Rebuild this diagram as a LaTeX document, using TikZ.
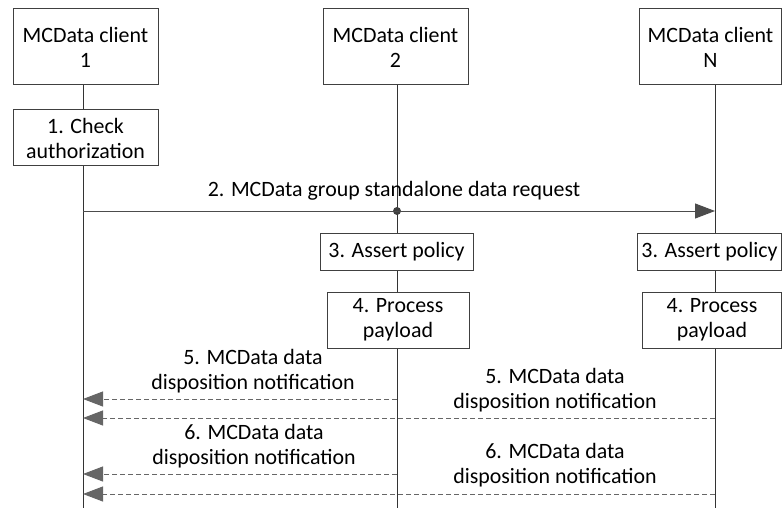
\documentclass[tikz,border=0pt]{standalone}
\usepackage{fontspec}
\setmainfont{Carlito}
\usetikzlibrary{arrows.meta}

\begin{document}
\begin{tikzpicture}[x=1pt, y=-1pt,
    font=\fontsize{21.9}{25}\selectfont,
    box/.style = {draw=black!75, line width=1pt, align=center, inner sep=2pt},
    life/.style = {draw=black!80, line width=1pt},
    req/.style = {draw=black!70, line width=1pt, -{Triangle[length=20pt,width=15pt]}},
    rsp/.style = {draw=black!60, line width=1pt, dash pattern=on 5pt off 3pt, -{Triangle[length=20pt,width=15pt]}},
    dot/.style = {circle, fill=black!75, minimum size=8pt, inner sep=0pt},
    lbl/.style = {align=center}]
                \useasboundingbox (0,0) rectangle (782,508);
                % clients
                \node[box, minimum width=145pt, minimum height=76pt] (c1) at (85.5,47) {MCData client\\1};
                \node[box, minimum width=145pt, minimum height=76pt] (c2) at (395.5,47) {MCData client\\2};
                \node[box, minimum width=142pt, minimum height=76pt] (cN) at (710.5,47) {MCData client\\N};
                \coordinate (e1) at (83,508);
                \coordinate (e2) at (397,508);
                \coordinate (eN) at (715,508);
                % actions
                \node[box, minimum width=145pt, minimum height=56pt] (auth) at (85.5,138) {1. Check\\authorization};
                \node[box, minimum width=153pt, minimum height=37pt] (pol2) at (396.5,251.5) {3. Assert policy};
                \node[box, minimum width=144pt, minimum height=37pt] (polN) at (709.5,251.5) {3. Assert policy};
                \node[box, minimum width=142pt, minimum height=56pt] (pay2) at (398,320) {4. Process\\payload};
                \node[box, minimum width=139pt, minimum height=56pt] (payN) at (712,320) {4. Process\\payload};
                % lifelines
                \draw[life] (c1.south -| e1) -- (auth.north -| e1);
                \draw[life] (auth.south -| e1) -- (e1);
                \draw[life] (c2.south -| e2) -- (pol2.north -| e2);
                \draw[life] (pol2.south -| e2) -- (pay2.north -| e2);
                \draw[life] (pay2.south -| e2) -- (e2);
                \draw[life] (cN.south -| eN) -- (polN.north -| eN);
                \draw[life] (polN.south -| eN) -- (payN.north -| eN);
                \draw[life] (payN.south -| eN) -- (eN);
                % request
                \node[dot] (hit) at (397,211) {};
                \node[lbl] (m2) at (394,191) {2. MCData group standalone data request};
                \draw[req] (e1 |- hit) -- (eN |- hit);
                % notifications
                \coordinate (r5a) at (397,399);
                \coordinate (r5b) at (715,418);
                \coordinate (r6a) at (397,474);
                \coordinate (r6b) at (715,494);
                \node[lbl] (m5a) at (253,371) {5. MCData data\\disposition notification};
                \node[lbl] (m5b) at (555,390.5) {5. MCData data\\disposition notification};
                \node[lbl] (m6a) at (254,446) {6. MCData data\\disposition notification};
                \node[lbl] (m6b) at (555,465) {6. MCData data\\disposition notification};
                \draw[rsp] (r5a) -- (e1 |- r5a);
                \draw[rsp] (r5b) -- (e1 |- r5b);
                \draw[rsp] (r6a) -- (e1 |- r6a);
                \draw[rsp] (r6b) -- (e1 |- r6b);
            \end{tikzpicture}
\end{document}
